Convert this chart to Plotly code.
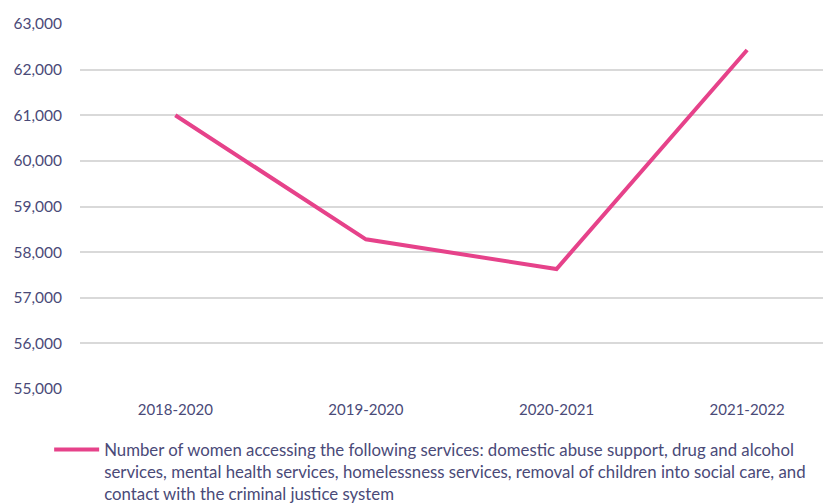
import plotly.graph_objects as go

categories = ["2018-2020", "2019-2020", "2020-2021", "2021-2022"]
women_accessing = [61000, 58280, 57630, 62430]
series_name = ("Number of women accessing the following services: domestic abuse support, drug and alcohol<br>"
               "services, mental health services, homelessness services, removal of children into social care, and<br>"
               "contact with the criminal justice system")
y_ticks = [55000, 56000, 57000, 58000, 59000, 60000, 61000, 62000, 63000]

text_col = "#4a4a78"
line_col = "#e6428a"
font_family = "Lato, 'Open Sans', sans-serif"

fig = go.Figure()
fig.add_trace(go.Scatter(
    x=categories, y=women_accessing, mode="lines", name=series_name,
    line=dict(color=line_col, width=4),
))

fig.update_layout(
    width=823, height=496,
    margin=dict(l=72, r=0, t=16, b=115, autoexpand=False),
    paper_bgcolor="white", plot_bgcolor="white",
    font=dict(family=font_family, color=text_col, size=15),
    xaxis=dict(type="category", range=[-0.5, 3.44], showgrid=False, showline=False,
               ticks="", ticklabelstandoff=10, tickfont=dict(size=15, color=text_col)),
    yaxis=dict(range=[55000, 63000], tickvals=y_ticks, tickformat=",",
               showgrid=True, gridcolor="#d9d9d9", gridwidth=1.5, zeroline=False,
               ticks="", ticklabelstandoff=17, tickfont=dict(size=15.5, color=text_col)),
    showlegend=True,
    legend=dict(orientation="h", xref="container", yref="container",
                x=0.05, xanchor="left", y=0.145, yanchor="top", valign="top",
                font=dict(size=16.8, color=text_col), itemwidth=45,
                bgcolor="rgba(0,0,0,0)"),
)

fig.write_html("out.html")
